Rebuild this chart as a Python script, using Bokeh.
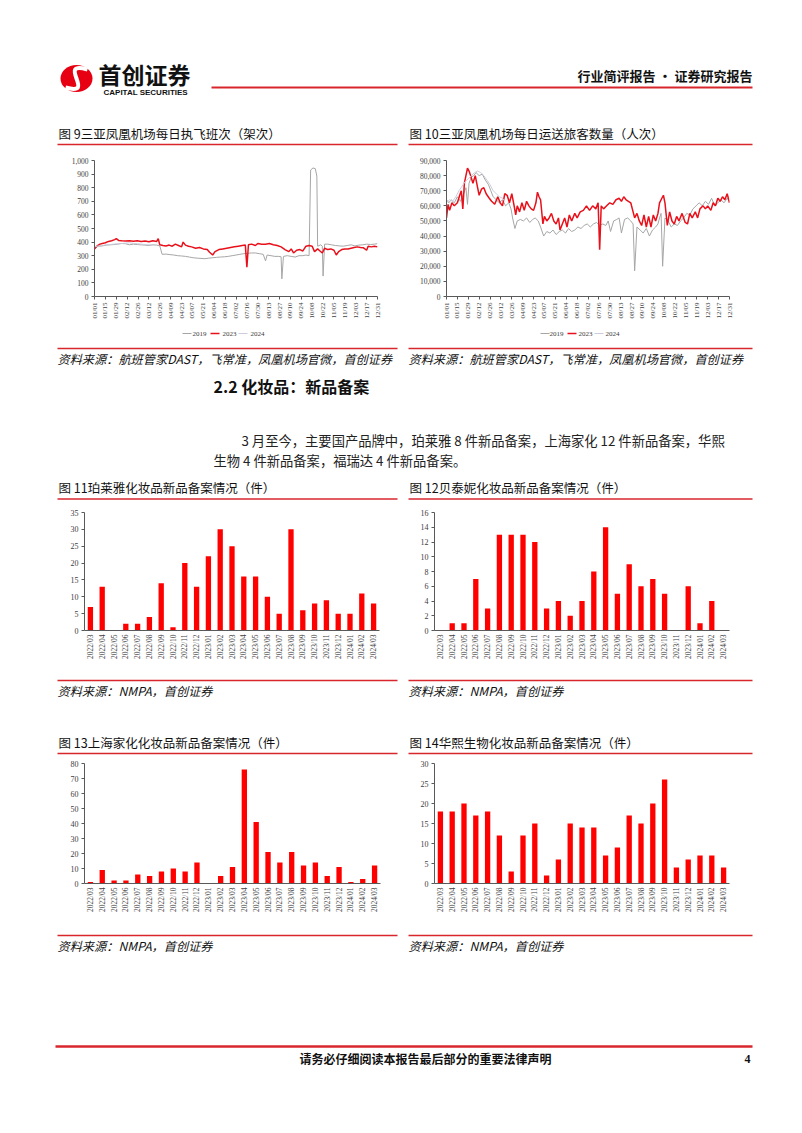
import math
from bokeh.plotting import figure
from bokeh.models import Range1d, FactorRange, FixedTicker, NumeralTickFormatter, Spacer
from bokeh.layouts import column, row
from bokeh.core.properties import value
from bokeh.embed import file_html
from bokeh.resources import INLINE

# ---------------- data ----------------
date_ticks = [0, 14, 28, 42, 56, 70, 84, 98, 112, 126, 140, 154, 168, 182, 196, 210,
              224, 238, 252, 266, 280, 294, 308, 322, 336, 350, 364]
date_tick_labels = ["01/01", "01/15", "01/29", "02/12", "02/26", "03/12", "03/26", "04/09",
                    "04/23", "05/07", "05/21", "06/04", "06/18", "07/02", "07/16", "07/30",
                    "08/13", "08/27", "09/10", "09/24", "10/08", "10/22", "11/05", "11/19",
                    "12/03", "12/17", "12/31"]
series_names = ["2019", "2023", "2024"]

# Fig 9: daily flights (day index from 01/01)
flights_2019_day = [0, 5, 10, 15, 20, 25, 30, 35, 40, 45, 50, 55, 60, 65, 70, 75, 80, 84, 87, 92,
                    97, 102, 107, 112, 117, 122, 127, 132, 137, 142, 147, 152, 157, 162, 167, 172,
                    177, 182, 187, 192, 197, 202, 207, 212, 217, 220, 222, 227, 232, 237, 240, 241,
                    243, 248, 253, 258, 263, 268, 272, 276, 278, 281, 284, 286, 287, 291, 293, 294,
                    296, 300, 305, 310, 315, 320, 325, 330, 335, 340, 345, 350, 355, 360, 364]
flights_2019 = [360, 370, 372, 378, 380, 382, 385, 390, 388, 380, 385, 382, 380, 378, 375, 380,
                378, 372, 310, 312, 308, 305, 300, 298, 295, 290, 285, 282, 280, 278, 282, 285,
                288, 290, 292, 295, 300, 305, 310, 315, 318, 320, 320, 315, 310, 262, 305, 300,
                295, 295, 292, 130, 295, 300, 295, 290, 300, 300, 305, 300, 930, 945, 940, 885,
                370, 380, 370, 150, 385, 385, 380, 375, 372, 370, 375, 380, 372, 378, 380, 385,
                382, 385, 388]
flights_2023_day = [0, 3, 7, 10, 14, 18, 22, 26, 28, 31, 35, 40, 45, 50, 55, 60, 65, 70, 75, 80,
                    82, 84, 88, 92, 96, 100, 104, 108, 112, 114, 117, 121, 125, 130, 135, 140, 145,
                    148, 152, 155, 160, 165, 170, 175, 180, 185, 190, 194, 196, 198, 202, 207, 210,
                    215, 220, 225, 230, 235, 240, 245, 250, 253, 256, 260, 264, 268, 272, 276, 280,
                    283, 287, 290, 293, 296, 300, 304, 308, 311, 314, 318, 322, 326, 330, 334, 338,
                    342, 346, 350, 352, 356, 360, 364]
flights_2023 = [350, 370, 385, 390, 395, 405, 410, 418, 425, 412, 410, 408, 410, 407, 410, 405,
                408, 402, 410, 405, 425, 380, 375, 372, 378, 370, 385, 375, 365, 400, 378, 370,
                365, 355, 360, 350, 345, 325, 305, 330, 345, 350, 355, 360, 365, 370, 375, 378,
                215, 380, 385, 375, 390, 385, 385, 390, 380, 375, 365, 345, 330, 350, 320, 340,
                345, 335, 370, 375, 370, 330, 350, 335, 320, 355, 345, 350, 340, 305, 330, 345,
                350, 350, 355, 360, 365, 360, 358, 340, 370, 365, 370, 365]
flights_2024_day = [0, 5, 10, 15, 20, 25, 30, 35, 40, 45, 50, 55, 60, 65, 70, 75]
flights_2024 = [365, 372, 375, 380, 382, 385, 388, 390, 392, 395, 390, 388, 385, 382, 380, 378]

# Fig 10: daily passengers
pax_2019_day = [0, 3, 6, 10, 14, 18, 22, 25, 27, 29, 32, 35, 38, 42, 46, 50, 54, 57, 60, 64, 68,
                72, 76, 80, 83, 85, 88, 91, 95, 99, 103, 107, 111, 114, 118, 121, 125, 129, 133,
                137, 141, 145, 149, 153, 157, 161, 165, 169, 173, 177, 181, 185, 189, 193, 197,
                201, 205, 208, 211, 215, 219, 222, 225, 229, 233, 237, 240, 242, 245, 249, 253,
                257, 261, 265, 269, 272, 274, 276, 278, 281, 285, 289, 293, 297, 301, 305, 309,
                313, 317, 321, 325, 329, 333, 337, 341, 345, 349, 353, 357, 361, 364]
pax_2019 = [64000, 62000, 64000, 62000, 66000, 63000, 68000, 72000, 61000, 75000, 79000, 80000,
            82000, 80000, 81000, 77000, 74000, 70000, 66000, 64000, 62000, 64000, 60000, 62000,
            58000, 52000, 45000, 50000, 51000, 50000, 52000, 49000, 51000, 52000, 50000, 46000,
            40000, 43000, 42000, 44000, 41000, 43000, 44000, 42000, 45000, 43000, 44000, 46000,
            45000, 47000, 48000, 46000, 48000, 49000, 47000, 48000, 47000, 50000, 43000, 50000,
            51000, 52000, 42000, 51000, 52000, 50000, 48000, 17000, 46000, 44000, 42000, 45000,
            40000, 44000, 46000, 48000, 52000, 55000, 20000, 52000, 50000, 46000, 48000, 47000,
            50000, 52000, 55000, 54000, 58000, 60000, 62000, 60000, 63000, 61000, 65000, 60000,
            62000, 64000, 62000, 65000, 63000, 64000]
pax_2023_day = [0, 2, 4, 7, 10, 14, 17, 19, 21, 23, 25, 27, 29, 31, 34, 37, 40, 42, 45, 48, 51,
                55, 58, 62, 66, 69, 72, 75, 78, 81, 84, 87, 89, 91, 94, 97, 100, 103, 106, 109,
                112, 115, 117, 119, 121, 124, 126, 129, 132, 135, 138, 141, 144, 146, 149, 152,
                155, 158, 161, 165, 168, 172, 176, 180, 184, 188, 192, 195, 197, 199, 202, 206,
                210, 214, 218, 222, 225, 228, 231, 234, 237, 239, 242, 245, 248, 251, 254, 257,
                260, 263, 266, 269, 272, 274, 277, 279, 281, 284, 287, 290, 293, 296, 299, 303,
                307, 310, 313, 316, 320, 323, 326, 330, 333, 336, 340, 343, 346, 349, 352, 355,
                358, 361, 364]
pax_2023 = [52000, 61000, 57000, 62000, 60000, 62000, 67000, 70000, 58000, 75000, 80000, 85000,
            83000, 80000, 75000, 80000, 72000, 67000, 71000, 72000, 68000, 65000, 63000, 61000,
            66000, 62000, 60000, 68000, 67000, 62000, 68000, 60000, 54000, 60000, 56000, 62000,
            57000, 63000, 60000, 58000, 57000, 62000, 69000, 66000, 64000, 48000, 53000, 50000,
            52000, 55000, 50000, 48000, 52000, 44000, 48000, 52000, 46000, 54000, 50000, 55000,
            52000, 56000, 57000, 60000, 57000, 60000, 58000, 62000, 31000, 60000, 58000, 60000,
            62000, 61000, 64000, 65000, 63000, 66000, 64000, 63000, 62000, 58000, 52000, 55000,
            50000, 47000, 54000, 46000, 53000, 46000, 54000, 50000, 55000, 62000, 65000, 67000,
            62000, 47000, 56000, 50000, 48000, 53000, 50000, 55000, 49000, 48000, 55000, 52000,
            56000, 52000, 58000, 60000, 58000, 60000, 57000, 62000, 60000, 65000, 63000, 66000,
            64000, 68000, 62000]
pax_2024_day = [0, 4, 8, 12, 16, 20, 24, 28, 32, 36, 40, 44, 48, 52, 56, 60, 64, 68, 72, 75]
pax_2024 = [62000, 64000, 63000, 66000, 70000, 73000, 76000, 78000, 80000, 82000, 83000, 82000,
            80000, 77000, 74000, 70000, 68000, 66000, 65000, 63000]

# Figs 11-14: monthly new product filings
months = ["2022/03", "2022/04", "2022/05", "2022/06", "2022/07", "2022/08", "2022/09", "2022/10",
          "2022/11", "2022/12", "2023/01", "2023/02", "2023/03", "2023/04", "2023/05", "2023/06",
          "2023/07", "2023/08", "2023/09", "2023/10", "2023/11", "2023/12", "2024/01", "2024/02",
          "2024/03"]
proya = [7, 13, 0, 2, 2, 4, 14, 1, 20, 13, 22, 30, 25, 16, 16, 10, 5, 30, 6, 8, 9, 5, 5, 11, 8]
botanee = [0, 1, 1, 7, 3, 13, 13, 13, 12, 3, 4, 2, 4, 8, 14, 5, 9, 6, 7, 5, 0, 6, 1, 4, 0]
jahwa = [1, 9, 2, 2, 6, 5, 8, 10, 8, 14, 0, 5, 11, 76, 41, 21, 14, 21, 12, 14, 5, 11, 1, 3, 12]
bloomage = [18, 18, 20, 17, 18, 12, 3, 12, 15, 2, 6, 15, 14, 14, 7, 9, 17, 15, 20, 26, 4, 6, 7, 7, 4]

# ---------------- styles ----------------
CJK = "Noto Sans CJK SC"
SERIF = "Liberation Serif"
RULE = "#d8262c"
BAR_RED = "#ff0000"
RED = "#e8101a"
GRAY = "#a6a6a6"
LAV = "#ccccdd"
AXIS = "#595959"
LABEL = "#404040"
W = 796
X0 = 0
LEFT_PAD = 57


def band(top, bottom):
    p = figure(width=W, height=bottom - top, x_range=Range1d(X0, X0 + W),
               y_range=Range1d(bottom, top), output_backend="svg", toolbar_location=None,
               title=None, x_axis_location=None, y_axis_location=None, min_border=0)
    p.outline_line_color = None
    p.grid.visible = False
    return p


def txt(p, x, y, s, size, font=CJK, style="normal", color="#111111", align="left"):
    p.text(x=[x], y=[y], text=[s], text_font=value(font), text_font_size=value(f"{size}px"),
           text_font_style=style, text_color=color, text_align=align, text_baseline="middle")


def hline(p, x0, x1, y, color=RULE, width=1.5):
    p.line([x0, x1], [y, y], line_color=color, line_width=width)


def style_axes(p, xsize, ysize):
    for ax in (p.xaxis[0], p.yaxis[0]):
        ax.axis_line_color = AXIS
        ax.major_tick_line_color = AXIS
        ax.minor_tick_line_color = None
        ax.major_tick_in = 0
        ax.major_tick_out = 3
        ax.major_label_standoff = 3
        ax.major_label_text_font = SERIF
        ax.major_label_text_color = LABEL
    p.xaxis[0].major_label_text_font_size = f"{xsize}px"
    p.yaxis[0].major_label_text_font_size = f"{ysize}px"
    p.xaxis[0].major_label_orientation = math.pi / 2
    p.outline_line_color = None
    p.grid.visible = False


def ts_fig(width, height, lb, rb, tb, bb, ymax, ystep):
    p = figure(width=width, height=height, x_range=Range1d(0, 364), y_range=Range1d(0, ymax),
               output_backend="svg", toolbar_location=None, title=None,
               min_border_left=lb, min_border_right=rb, min_border_top=tb, min_border_bottom=bb)
    style_axes(p, 7, 7.5)
    p.xaxis[0].ticker = FixedTicker(ticks=date_ticks)
    p.xaxis[0].major_label_overrides = {t: lab for t, lab in zip(date_ticks, date_tick_labels)}
    p.yaxis[0].ticker = FixedTicker(ticks=list(range(0, ymax + 1, ystep)))
    p.yaxis[0].formatter = NumeralTickFormatter(format="0,0")
    return p


def bar_fig(width, height, lb, rb, tb, bb, ymax, ystep, vals):
    p = figure(width=width, height=height, x_range=FactorRange(factors=months),
               y_range=Range1d(0, ymax), output_backend="svg", toolbar_location=None, title=None,
               min_border_left=lb, min_border_right=rb, min_border_top=tb, min_border_bottom=bb)
    style_axes(p, 7.5, 8)
    p.xaxis[0].major_tick_out = 0
    p.xaxis[0].major_label_standoff = 4
    p.yaxis[0].ticker = FixedTicker(ticks=list(range(0, ymax + 1, ystep)))
    p.vbar(x=months, top=vals, width=0.45, fill_color=BAR_RED, line_color=None)
    return p


def panel_row(fl, fr, h):
    return row(Spacer(width=LEFT_PAD, height=h), fl, Spacer(width=11, height=h), fr)


# ---------------- band 1: header + titles of fig 9/10 ----------------
b1 = band(0, 146)
b1.ellipse(x=[76], y=[78], width=32, height=27, fill_color="#e60012", line_color=None)
b1.bezier(x0=[87], y0=[69], x1=[65], y1=[87], cx0=[55], cy0=[60], cx1=[97], cy1=[96],
          line_color="white", line_width=4)
txt(b1, 98, 73, "首创证券", 23, style="bold")
txt(b1, 103, 92, "CAPITAL SECURITIES", 8, font="Liberation Sans", style="bold")
hline(b1, 211, 752, 87, width=2)
txt(b1, 752, 75, "行业简评报告 · 证券研究报告", 13, style="bold", align="right")
txt(b1, 58, 133, "图 9三亚凤凰机场每日执飞班次（架次）", 12.5)
txt(b1, 409, 133, "图 10三亚凤凰机场每日运送旅客数量（人次）", 12.5)
hline(b1, 57, 397, 144)
hline(b1, 408, 752, 144)

# ---------------- row A: fig 9 / fig 10 ----------------
f9 = ts_fig(340, 184, 37, 20, 14, 26, 1000, 100)
f9.line(flights_2019_day, flights_2019, line_color=GRAY, line_width=1)
f9.line(flights_2023_day, flights_2023, line_color=RED, line_width=1.5)
f9.line(flights_2024_day, flights_2024, line_color=LAV, line_width=1)

f10 = ts_fig(344, 184, 38, 23, 7, 34, 90000, 10000)
f10.line(pax_2019_day, pax_2019, line_color=GRAY, line_width=1)
f10.line(pax_2023_day, pax_2023, line_color=RED, line_width=1.5)
f10.line(pax_2024_day, pax_2024, line_color=LAV, line_width=1)

rowA = panel_row(f9, f10, 184)

# ---------------- band 2 ----------------
b2 = band(330, 500)
for lx, tx in ((182, 192), (540, 549)):
    for i, (c, name) in enumerate(zip([GRAY, RED, LAV], series_names)):
        off = i * 28 if lx < 300 else i * 27
        b2.line([lx + off, lx + off + 9], [333, 333], line_color=c, line_width=1.5 if c == RED else 1)
        txt(b2, tx + off + (2 if i else 0), 333, name, 7, font=SERIF, color=LABEL)
src1 = "资料来源：航班管家DAST，飞常准，凤凰机场官微，首创证券"
hline(b2, 57, 397, 348)
hline(b2, 408, 752, 348)
txt(b2, 57, 358, src1, 12.2, style="italic")
txt(b2, 408, 358, src1, 12.2, style="italic")
txt(b2, 213, 385, "2.2 化妆品：新品备案", 16, style="bold")
txt(b2, 241, 440, "3 月至今，主要国产品牌中，珀莱雅 8 件新品备案，上海家化 12 件新品备案，华熙", 13.3,
    color="#222222")
txt(b2, 213, 460, "生物 4 件新品备案，福瑞达 4 件新品备案。", 13.3, color="#222222")
txt(b2, 58, 487, "图 11珀莱雅化妆品新品备案情况（件）", 12.5)
txt(b2, 409, 487, "图 12贝泰妮化妆品新品备案情况（件）", 12.5)
hline(b2, 57, 397, 498.5)
hline(b2, 408, 752, 498.5)

# ---------------- row B ----------------
f11 = bar_fig(340, 172, 27, 18, 10, 38, 35, 5, proya)
f12 = bar_fig(344, 172, 26, 23, 12, 42, 16, 2, botanee)
rowB = panel_row(f11, f12, 172)

# ---------------- band 3 ----------------
src2 = "资料来源：NMPA，首创证券"
b3 = band(672, 755)
hline(b3, 57, 397, 680)
hline(b3, 408, 752, 680)
txt(b3, 57, 690, src2, 12.2, style="italic")
txt(b3, 408, 690, src2, 12.2, style="italic")
txt(b3, 58, 742, "图 13上海家化化妆品新品备案情况（件）", 12.5)
txt(b3, 409, 742, "图 14华熙生物化妆品新品备案情况（件）", 12.5)
hline(b3, 57, 397, 753)
hline(b3, 408, 752, 753)

# ---------------- row C ----------------
f13 = bar_fig(340, 175, 27, 17, 8, 40, 80, 10, jahwa)
f14 = bar_fig(344, 175, 26, 23, 8, 47, 30, 5, bloomage)
rowC = panel_row(f13, f14, 175)

# ---------------- band 4: sources + footer ----------------
b4 = band(930, 1125)
hline(b4, 57, 397, 935)
hline(b4, 408, 752, 935)
txt(b4, 57, 945, src2, 12.2, style="italic")
txt(b4, 408, 945, src2, 12.2, style="italic")
hline(b4, 55, 752, 1046, width=2.5)
txt(b4, 425, 1058, "请务必仔细阅读本报告最后部分的重要法律声明", 12, style="bold", align="center")
txt(b4, 750, 1058, "4", 12, font=SERIF, style="bold", align="right")

p = column(b1, rowA, b2, rowB, b3, rowC, b4, spacing=0)

open("out.html", "w").write(file_html(p, INLINE))
